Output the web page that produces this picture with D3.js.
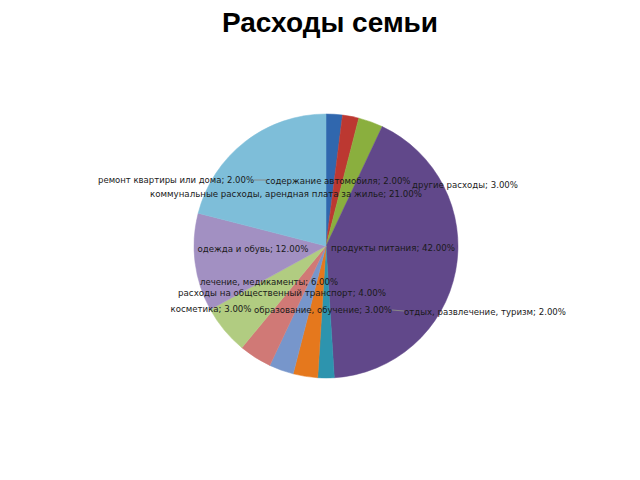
<!DOCTYPE html>
<html><head><meta charset="utf-8">
<script src="https://cdn.jsdelivr.net/npm/d3@7"></script>
<style>body{margin:0;background:#fff}svg{display:block}</style>
</head><body>
<script>
const categories = [
  "ремонт квартиры или дома",
  "содержание автомобиля",
  "другие расходы",
  "продукты питания",
  "отдых, развлечение, туризм",
  "образование, обучение",
  "косметика",
  "расходы на общественный транспорт",
  "лечение, медикаменты",
  "одежда и обувь",
  "коммунальные расходы, арендная плата за жилье"
];
const values = [2, 2, 3, 42, 2, 3, 3, 4, 6, 12, 21];
const colors = ["#2e63a8","#b5362f","#85a93c","#5e4585","#2b8fa8","#dd741c","#7391c4","#c97572","#abc57c","#9c8bbb","#7ab7d1"];
// label centre positions (layout), same order as categories
const labelPos = [[176,183],[338,184],[465,188],[393,251],[485,315],[323,313],[211,312],[282,296],[269,285],[253,252],[286,197]];
const labelW = [156,145,106,124,162,138,81,208,138,111,272];

const W=640,H=480, cx=326, cy=246, R=132;
const svg = d3.select("body").append("svg").attr("width",W).attr("height",H);
svg.append("text").attr("x",330).attr("y",32).attr("text-anchor","middle")
  .attr("font-family","Liberation Sans, Arial, sans-serif").attr("font-weight","bold")
  .attr("font-size",28).attr("fill","#000").text("Расходы семьи");

const defs = svg.append("defs");
colors.forEach((c,i)=>{
  const g = defs.append("radialGradient").attr("id","g"+i).attr("gradientUnits","userSpaceOnUse")
    .attr("cx",cx).attr("cy",cy).attr("r",R);
  g.append("stop").attr("offset","0%").attr("stop-color",d3.color(c).darker(0.25));
  g.append("stop").attr("offset","100%").attr("stop-color",d3.color(c).brighter(0.1));
});

const pie = d3.pie().sort(null).value(d=>d);
const arc = d3.arc().innerRadius(0).outerRadius(R);
const gp = svg.append("g").attr("transform",`translate(${cx},${cy})`);
gp.selectAll("path").data(pie(values)).join("path")
  .attr("d",arc).attr("fill",(d,i)=>`url(#g${i})`)
  .attr("stroke",(d,i)=>`url(#g${i})`).attr("stroke-width",0.5);

// leader lines
const leaders = [[254,180,266,180],[392,310,404,311]];
svg.selectAll("line.ld").data(leaders).join("line").attr("class","ld")
  .attr("x1",d=>d[0]).attr("y1",d=>d[1]).attr("x2",d=>d[2]).attr("y2",d=>d[3])
  .attr("stroke","#888").attr("stroke-width",1);

svg.selectAll("text.lb").data(categories).join("text").attr("class","lb")
  .attr("x",(d,i)=>labelPos[i][0]).attr("y",(d,i)=>labelPos[i][1])
  .attr("text-anchor","middle").attr("font-family","DejaVu Sans, sans-serif")
  .attr("font-size",9).attr("fill","#1a1a1a")
  .attr("textLength",(d,i)=>labelW[i]).attr("lengthAdjust","spacingAndGlyphs")
  .text((d,i)=>`${d}; ${values[i].toFixed(2)}%`);
</script>
</body></html>
